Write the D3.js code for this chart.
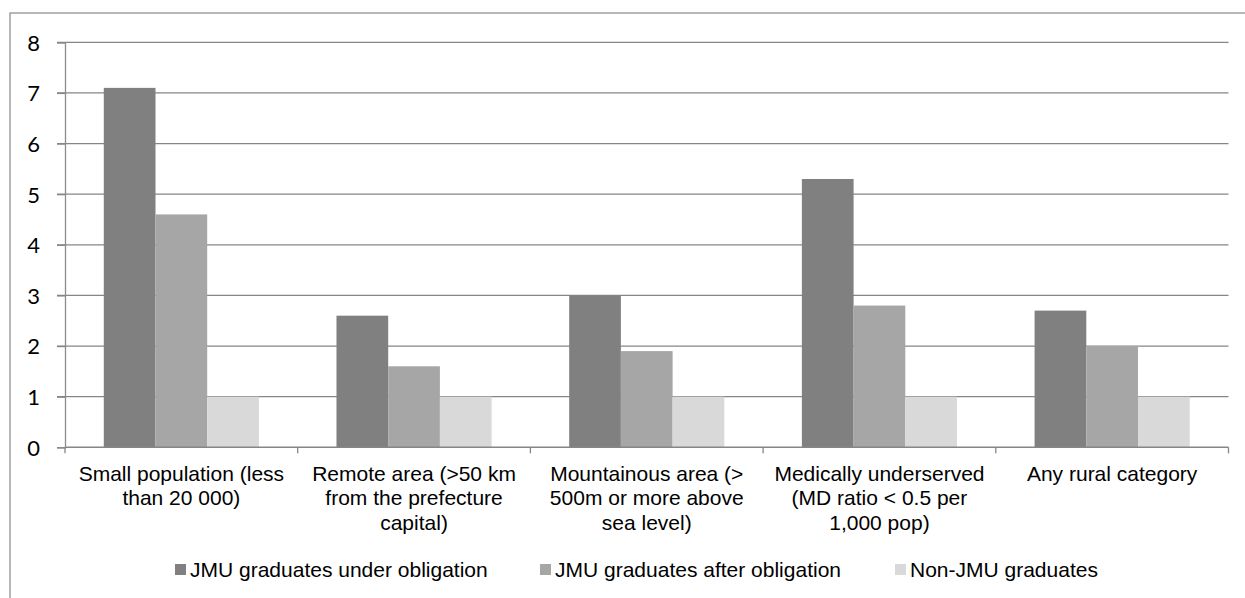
<!DOCTYPE html>
<html><head><meta charset="utf-8">
<script src="https://cdn.jsdelivr.net/npm/d3@7"></script>
<style>body{margin:0;background:#fff}svg{display:block}</style>
</head><body>
<svg id="c" width="1245" height="598"></svg>
<script>
const categories = [
  ["Small population (less", "than 20 000)"],
  ["Remote area (>50 km", "from the prefecture", "capital)"],
  ["Mountainous area (>", "500m or more above", "sea level)"],
  ["Medically underserved", "(MD ratio < 0.5 per", "1,000 pop)"],
  ["Any rural category"]
];
const seriesNames = ["JMU graduates under obligation", "JMU graduates after obligation", "Non-JMU graduates"];
const underObligation = [7.1, 2.6, 3.0, 5.3, 2.7];
const afterObligation = [4.6, 1.6, 1.9, 2.8, 2.0];
const nonJMU = [1.0, 1.0, 1.0, 1.0, 1.0];
const yTicks = [0, 1, 2, 3, 4, 5, 6, 7, 8];
const colors = ["#808080", "#a6a6a6", "#d9d9d9"];
const series = [underObligation, afterObligation, nonJMU];

const svg = d3.select("#c");
const L = 65, R = 1228.5, T = 42.3, B = 447.3;

// outer border
svg.append("rect").attr("x", 10).attr("y", 13).attr("width", 1300).attr("height", 700)
  .attr("fill", "none").attr("stroke", "#888").attr("stroke-width", 1.2);

const x = d3.scaleBand().domain(d3.range(categories.length)).range([L, R]).padding(0);
const y = d3.scaleLinear().domain([0, 8]).range([B, T]);
const bw = x.bandwidth() / 4.5;
const xs = d3.scaleBand().domain(d3.range(3)).range([bw * 0.75, bw * 3.75]).padding(0);

// gridlines
svg.append("g").selectAll("line").data(yTicks.filter(d => d > 0)).join("line")
  .attr("x1", L - 8).attr("x2", R).attr("y1", d => y(d)).attr("y2", d => y(d))
  .attr("stroke", "#868686").attr("stroke-width", 1.3);

// bars
const g = svg.append("g");
series.forEach((vals, si) => {
  g.selectAll(null).data(vals).join("rect")
    .attr("x", (d, i) => x(i) + xs(si))
    .attr("width", xs.bandwidth())
    .attr("y", d => y(d))
    .attr("height", d => B - y(d))
    .attr("fill", colors[si]);
});

// y axis
const yAxis = d3.axisLeft(y).tickValues(yTicks).tickSize(8).tickPadding(17);
const ya = svg.append("g").attr("transform", `translate(${L},0)`).call(yAxis);
ya.select(".domain").attr("stroke", "#8c8c8c").attr("stroke-width", 1.3);
ya.selectAll(".tick line").attr("stroke", "#868686").attr("stroke-width", 1.3);
ya.selectAll(".tick text").attr("font-family", "Lato, 'Open Sans', sans-serif")
  .attr("font-size", 22).attr("fill", "#000").attr("dy", "0.36em");

// x axis
const xa = svg.append("g").attr("transform", `translate(0,${B})`);
xa.append("line").attr("x1", L).attr("x2", R).attr("stroke", "#868686").attr("stroke-width", 1.5);
const bounds = d3.range(categories.length + 1).map(i => i < categories.length ? x(i) : R);
xa.selectAll("line.tk").data(bounds).join("line").attr("class", "tk")
  .attr("x1", d => d).attr("x2", d => d).attr("y1", 0).attr("y2", 6).attr("stroke", "#868686").attr("stroke-width", 1.3);
categories.forEach((lines, i) => {
  const t = xa.append("text").attr("text-anchor", "middle")
    .attr("font-family", "'Liberation Sans', Arial, sans-serif").attr("font-size", 21).attr("fill", "#000");
  lines.forEach((ln, j) => {
    t.append("tspan").attr("x", x(i) + x.bandwidth() / 2).attr("y", 34 + j * 24.2).text(ln);
  });
});

// legend
const legX = [175, 540, 895];
const leg = svg.append("g");
seriesNames.forEach((n, i) => {
  leg.append("rect").attr("x", legX[i]).attr("y", 564).attr("width", 11).attr("height", 11).attr("fill", colors[i]);
  leg.append("text").attr("x", legX[i] + 15).attr("y", 577)
    .attr("font-family", "'Liberation Sans', Arial, sans-serif").attr("font-size", 21).attr("fill", "#000").text(n);
});
</script>
</body></html>
